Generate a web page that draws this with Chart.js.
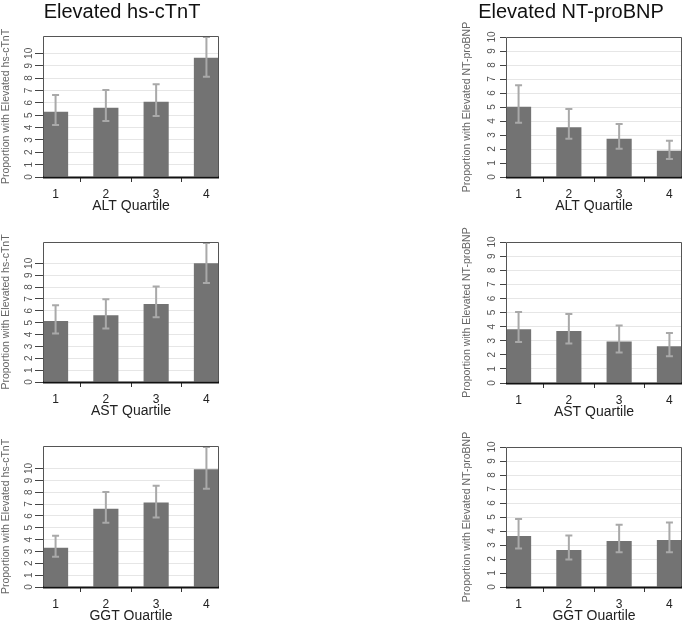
<!DOCTYPE html>
<html><head><meta charset="utf-8">
<script src="https://cdn.jsdelivr.net/npm/chart.js@4.4.1/dist/chart.umd.min.js"></script>
<style>
html,body{margin:0;padding:0;background:#fff;overflow:hidden;width:683px;height:620px;position:relative;}
canvas{position:absolute;}
</style></head><body>
<canvas id="c0"></canvas><canvas id="c1"></canvas><canvas id="c2"></canvas>
<canvas id="c3"></canvas><canvas id="c4"></canvas><canvas id="c5"></canvas>
<script>
// ---------- data ----------
const quartiles = [1, 2, 3, 4];
const yTickValues = [0, 1, 2, 3, 4, 5, 6, 7, 8, 9, 10];
const columnTitles = ['Elevated hs-cTnT', 'Elevated NT-proBNP'];
const yTitles = ['Proportion with Elevated hs-cTnT', 'Proportion with Elevated NT-proBNP'];
const xTitles = ['ALT Quartile', 'AST Quartile', 'GGT Quartile'];

const altTnt      = [5.28, 5.60, 6.09, 9.65];
const altTntLower = [4.20, 4.53, 4.93, 8.11];
const altTntUpper = [6.63, 7.03, 7.49, 11.4];

const altBnp      = [5.01, 3.56, 2.73, 1.88];
const altBnpLower = [3.87, 2.73, 2.02, 1.28];
const altBnpUpper = [6.56, 4.85, 3.78, 2.59];

const astTnt      = [5.15, 5.63, 6.58, 10.0];
const astTntLower = [4.09, 4.51, 5.46, 8.35];
const astTntUpper = [6.47, 6.97, 8.04, 11.8];

const astBnp      = [3.81, 3.69, 2.95, 2.60];
const astBnpLower = [2.91, 2.81, 2.17, 1.89];
const astBnpUpper = [5.04, 4.89, 4.07, 3.55];

const ggtTnt      = [3.31, 6.60, 7.13, 9.94];
const ggtTntLower = [2.56, 5.42, 5.87, 8.29];
const ggtTntUpper = [4.33, 8.01, 8.54, 11.9];

const ggtBnp      = [3.65, 2.65, 3.29, 3.36];
const ggtBnpLower = [2.75, 1.97, 2.49, 2.49];
const ggtBnpUpper = [4.86, 3.67, 4.45, 4.60];

const yMaxTnt = [11.4, 11.8, 11.9];
const yMaxBnp = [10, 10, 10];

// ---------- layout (not data) ----------
const FONT = "'Liberation Sans', Arial, sans-serif";
const panels = [
  {id:'c0', col:0, row:0, left:0,   top:0,   width:230, aTop:36,  aBot:177, v:altTnt, lo:altTntLower, hi:altTntUpper, max:yMaxTnt[0]},
  {id:'c1', col:1, row:0, left:450, top:0,   width:233, aTop:37,  aBot:177, v:altBnp, lo:altBnpLower, hi:altBnpUpper, max:yMaxBnp[0]},
  {id:'c2', col:0, row:1, left:0,   top:200, width:230, aTop:242, aBot:382, v:astTnt, lo:astTntLower, hi:astTntUpper, max:yMaxTnt[1]},
  {id:'c3', col:1, row:1, left:450, top:200, width:233, aTop:242, aBot:383, v:astBnp, lo:astBnpLower, hi:astBnpUpper, max:yMaxBnp[1]},
  {id:'c4', col:0, row:2, left:0,   top:400, width:230, aTop:446, aBot:587, v:ggtTnt, lo:ggtTntLower, hi:ggtTntUpper, max:yMaxTnt[2]},
  {id:'c5', col:1, row:2, left:450, top:400, width:233, aTop:447, aBot:587, v:ggtBnp, lo:ggtBnpLower, hi:ggtBnpUpper, max:yMaxBnp[2]}
];
const colGeom = [
  {areaLeft:43, areaRight:219, tickLen:8, tickPad:0, yTitlePad:0, titleX:122},
  {areaLeft:56, areaRight:232, tickLen:6, tickPad:2, yTitlePad:11, titleX:121}
];

const errorBarPlugin = {
  id: 'errorBars',
  afterDatasetsDraw(chart, args, opts) {
    const {ctx, chartArea: a, scales: {x, y}} = chart;
    ctx.save();
    ctx.beginPath(); ctx.rect(a.left, a.top - 1, a.right - a.left, a.bottom - a.top + 1); ctx.clip();
    ctx.strokeStyle = '#a9a9a9';
    ctx.lineWidth = 2;
    opts.lo.forEach((lo, i) => {
      const px = x.getPixelForValue(quartiles[i]);
      const y1 = Math.max(y.getPixelForValue(opts.hi[i]), a.top + 1);
      const y0 = y.getPixelForValue(lo);
      ctx.beginPath();
      ctx.moveTo(px, y0); ctx.lineTo(px, y1);
      ctx.moveTo(px - 3.5, y0); ctx.lineTo(px + 3.5, y0);
      ctx.moveTo(px - 3.5, y1); ctx.lineTo(px + 3.5, y1);
      ctx.stroke();
    });
    ctx.restore();
  }
};
const framePlugin = {
  id: 'frame',
  afterDraw(chart, args, opts) {
    const {ctx, chartArea: a} = chart;
    ctx.save();
    ctx.strokeStyle = '#555';
    ctx.lineWidth = 1;
    ctx.beginPath();
    ctx.moveTo(a.left + 0.5, a.bottom); ctx.lineTo(a.left + 0.5, a.top + 0.5);
    ctx.lineTo(a.right - 0.5, a.top + 0.5); ctx.lineTo(a.right - 0.5, a.bottom);
    ctx.stroke();
    ctx.strokeStyle = '#111';
    ctx.lineWidth = 2;
    ctx.beginPath();
    ctx.moveTo(a.left, a.bottom + 0.5); ctx.lineTo(a.right, a.bottom + 0.5);
    ctx.stroke();
    if (opts.title) {
      ctx.fillStyle = '#111';
      ctx.font = '20px ' + FONT;
      ctx.textAlign = 'center';
      ctx.textBaseline = 'middle';
      ctx.fillText(opts.title, opts.titleX, opts.titleY);
    }
    ctx.restore();
  }
};

panels.forEach(p => {
  const g = colGeom[p.col];
  const cv = document.getElementById(p.id);
  const h = (p.aBot - p.top) + 40;
  cv.width = p.width; cv.height = h;
  cv.style.left = p.left + 'px'; cv.style.top = p.top + 'px';
  cv.style.width = p.width + 'px'; cv.style.height = h + 'px';
  new Chart(cv, {
    type: 'bar',
    data: {
      datasets: [{
        data: quartiles.map((q, i) => ({x: q, y: p.v[i]})),
        backgroundColor: '#737373',
        borderWidth: 0,
        barPercentage: 0.5,
        categoryPercentage: 1
      }]
    },
    options: {
      responsive: false,
      animation: false,
      devicePixelRatio: 1,
      layout: {padding: {top: p.aTop - p.top, right: p.width - g.areaRight, left: 0, bottom: 0}},
      plugins: {
        legend: {display: false},
        tooltip: {enabled: false},
        errorBars: {lo: p.lo, hi: p.hi},
        frame: {title: p.row === 0 ? columnTitles[p.col] : null, titleX: g.titleX, titleY: 12}
      },
      scales: {
        x: {
          type: 'linear', min: 0.75, max: 4.25, offset: false,
          afterBuildTicks: s => { s.ticks = quartiles.map(v => ({value: v})); },
          afterFit: s => { s.height = 40; },
          grid: {drawOnChartArea: false, drawTicks: true, tickLength: 5, tickColor: '#333', tickWidth: 1},
          border: {display: false},
          ticks: {color: '#222', font: {family: FONT, size: 12}, padding: 5, maxRotation: 0, minRotation: 0,
                  autoSkip: false, callback: v => String(v)},
          title: {display: true, text: xTitles[p.row], color: '#222', font: {family: FONT, size: 14},
                  padding: {top: 0, bottom: 2.6}}
        },
        y: {
          type: 'linear', min: 0, max: p.max,
          afterBuildTicks: s => { s.ticks = yTickValues.map(v => ({value: v})); },
          afterFit: s => { s.width = g.areaLeft; },
          grid: {color: '#e6e6e6', lineWidth: 1, drawTicks: true, tickLength: g.tickLen, tickColor: '#444', tickWidth: 1},
          border: {display: false},
          ticks: {color: '#555', font: {family: FONT, size: 10}, padding: g.tickPad, minRotation: 90, maxRotation: 90,
                  crossAlign: 'center', autoSkip: false, callback: v => String(v)},
          title: {display: true, text: yTitles[p.col], color: '#666', font: {family: FONT, size: 10.5},
                  padding: {top: g.yTitlePad, bottom: 0}}
        }
      }
    },
    plugins: [errorBarPlugin, framePlugin]
  });
});
</script>
</body></html>
